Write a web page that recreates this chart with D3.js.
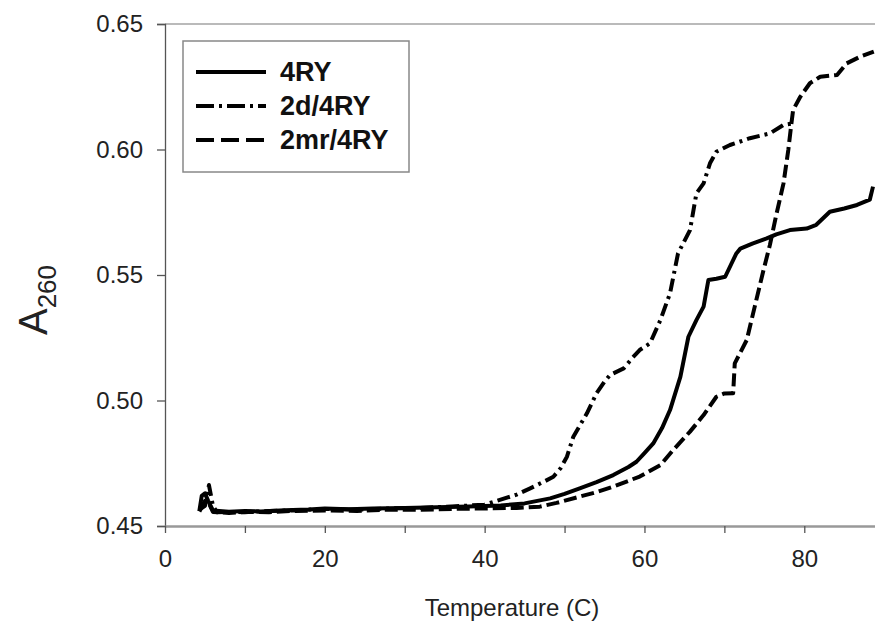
<!DOCTYPE html>
<html>
<head>
<meta charset="utf-8">
<script src="https://cdn.jsdelivr.net/npm/d3@7"></script>
<style>
  body { margin: 0; background: #fff; }
  text { font-family: "Liberation Sans", Arial, sans-serif; }
</style>
</head>
<body>
<div id="chart"></div>
<script>
// Series names (legend order)
var seriesNames = ["4RY", "2d/4RY", "2mr/4RY"];

// 4RY : [temperature, A260]
var ry4 = [[4.3,0.4560],[4.6,0.4620],[5.0,0.4630],[5.4,0.4600],[6,0.4562],[8,0.4557],[10,0.4560],[12,0.4558],
    [15,0.4563],[18,0.4566],[20,0.4570],[23,0.4567],[26,0.4570],[30,0.4572],[34,0.4575],[38,0.4578],[42,0.4582],
    [45,0.4590],[48.2,0.4610],[50,0.4628],[51.9,0.4650],[54,0.4675],[56.1,0.4703],[58,0.4735],[59,0.4756],
    [60,0.4790],[61.1,0.4829],[62.2,0.4890],[63.2,0.4962],[64.5,0.5095],[65.5,0.5254],[66.5,0.5320],[67.4,0.5374],
    [68,0.5480],[69,0.5485],[70.1,0.5493],[71.5,0.5586],[72,0.5605],[73.5,0.5625],[75.3,0.5646],[76.5,0.5662],
    [78.2,0.5679],[80.3,0.5685],[81.5,0.5700],[83.2,0.5752],[85,0.5765],[86.6,0.5779],[88.2,0.5800],[88.6,0.5852]];

// 2d/4RY
var d2ry4 = [[4.3,0.4565],[5.0,0.4580],[5.5,0.4663],[6.0,0.4580],[6.5,0.4555],[8,0.4556],[10,0.4555],[13,0.4560],
    [16,0.4562],[20,0.4568],[24,0.4565],[28,0.4570],[32,0.4572],[36,0.4578],[40,0.4585],[41.9,0.4604],[44,0.4625],
    [45.7,0.4650],[47.5,0.4678],[48.6,0.4696],[49.5,0.4730],[50.3,0.4776],[51.1,0.4856],[52.8,0.4949],[54,0.5029],
    [55,0.5075],[55.7,0.5102],[57.4,0.5128],[58.5,0.5170],[59.4,0.5201],[60.7,0.5228],[62,0.5321],[63.2,0.5427],
    [64.2,0.5586],[65.7,0.5679],[66.5,0.5825],[67.4,0.5865],[68.2,0.5945],[69,0.5991],[70.7,0.6018],[73.2,0.6045],
    [75.7,0.6064],[77.4,0.6098],[78.6,0.6104]];

// 2mr/4RY
var mr2ry4 = [[4.3,0.4558],[5,0.4600],[5.5,0.4590],[6,0.4556],[8,0.4552],[10,0.4556],[13,0.4555],[16,0.4560],
    [20,0.4562],[24,0.4560],[28,0.4565],[32,0.4565],[36,0.4568],[40,0.4570],[44,0.4572],[46.9,0.4577],[49,0.4592],
    [51.9,0.4617],[54,0.4635],[56.1,0.4657],[58,0.4680],[59.4,0.4697],[62,0.4743],[63.6,0.4803],[65.7,0.4876],
    [67.4,0.4942],[69,0.5015],[70,0.5028],[71.1,0.5029],[71.3,0.5148],[72.8,0.5241],[73.8,0.5374],[74.9,0.5520],
    [75.7,0.5620],[76.5,0.5740],[77.4,0.5865],[78,0.5998],[78.3,0.6080],[78.6,0.6157],[79.5,0.6210],[80.7,0.6264],
    [82,0.6290],[84.1,0.6297],[85.3,0.6343],[87,0.6370],[88.7,0.6390]];

// Tick values
var xTicks = [0, 10, 20, 30, 40, 50, 60, 70, 80];
var xLabels = [0, 20, 40, 60, 80];
var yTicks = [0.45, 0.50, 0.55, 0.60, 0.65];

var width = 875, height = 630;
var margin = {left: 165, right: 0, top: 24, bottom: 104};

var svg = d3.select("#chart").append("svg")
    .attr("width", width)
    .attr("height", height);

var x = d3.scaleLinear().domain([0, 88.85]).range([margin.left, width - margin.right]);
var y = d3.scaleLinear().domain([0.45, 0.65]).range([height - margin.bottom, margin.top]);

// top border of the plot area
svg.append("line")
    .attr("x1", x(0)).attr("x2", width)
    .attr("y1", y(0.65)).attr("y2", y(0.65))
    .attr("stroke", "#777").attr("stroke-width", 1.2);

// y axis
var yAxis = svg.append("g")
    .attr("transform", "translate(" + x(0) + ",0)")
    .call(d3.axisLeft(y).tickValues(yTicks).tickSize(8).tickPadding(14).tickFormat(d3.format(".2f")));
yAxis.select(".domain").attr("stroke", "#555").attr("stroke-width", 1.3);
yAxis.selectAll(".tick line").attr("stroke", "#555").attr("stroke-width", 1.3);
yAxis.selectAll("text").attr("font-size", 24).attr("fill", "#222")
    .attr("font-family", "Liberation Sans, Arial, sans-serif");

// x axis
var xAxis = svg.append("g")
    .attr("transform", "translate(0," + y(0.45) + ")")
    .call(d3.axisBottom(x).tickValues(xTicks).tickSize(7).tickSizeOuter(0).tickPadding(17)
        .tickFormat(function(d) { return xLabels.indexOf(d) >= 0 ? d : ""; }));
xAxis.select(".domain").attr("stroke", "#999").attr("stroke-width", 2.5);
xAxis.selectAll(".tick line").attr("stroke", "#555").attr("stroke-width", 1.3);
xAxis.selectAll("text").attr("font-size", 24).attr("fill", "#222")
    .attr("font-family", "Liberation Sans, Arial, sans-serif");

// axis titles
svg.append("text")
    .attr("x", 512).attr("y", 616)
    .attr("text-anchor", "middle")
    .attr("font-size", 24).attr("fill", "#222")
    .text("Temperature (C)");

var yTitle = svg.append("text")
    .attr("transform", "translate(47,300) rotate(-90)")
    .attr("text-anchor", "middle")
    .attr("font-size", 40).attr("fill", "#222");
yTitle.append("tspan").text("A");
yTitle.append("tspan").attr("font-size", 26).attr("dy", 9).text("260");

// curves
var line = d3.line()
    .x(function(d) { return x(d[0]); })
    .y(function(d) { return y(d[1]); });

var series = [ry4, d2ry4, mr2ry4];
var dashes = [null, "13,5,3,5", "13,5"];
var legendDashes = [null, "18,5,3,5", "18,7"];

for (var i = 0; i < series.length; i++) {
    svg.append("path")
        .datum(series[i])
        .attr("d", line)
        .attr("fill", "none")
        .attr("stroke", "#000")
        .attr("stroke-width", 4)
        .attr("stroke-linejoin", "round")
        .attr("stroke-dasharray", dashes[i]);
}

// legend box
var legend = svg.append("g").attr("transform", "translate(183,41)");
legend.append("rect")
    .attr("width", 226).attr("height", 131)
    .attr("fill", "#fff")
    .attr("stroke", "#888").attr("stroke-width", 1.5);

for (var i = 0; i < seriesNames.length; i++) {
    var ly = 31 + i * 34;
    legend.append("line")
        .attr("x1", 13).attr("x2", 83)
        .attr("y1", ly).attr("y2", ly)
        .attr("stroke", "#000").attr("stroke-width", 4)
        .attr("stroke-dasharray", legendDashes[i]);
    legend.append("text")
        .attr("x", 97).attr("y", ly + 9)
        .attr("font-size", 27).attr("font-weight", "bold").attr("fill", "#111")
        .text(seriesNames[i]);
}
</script>
</body>
</html>
